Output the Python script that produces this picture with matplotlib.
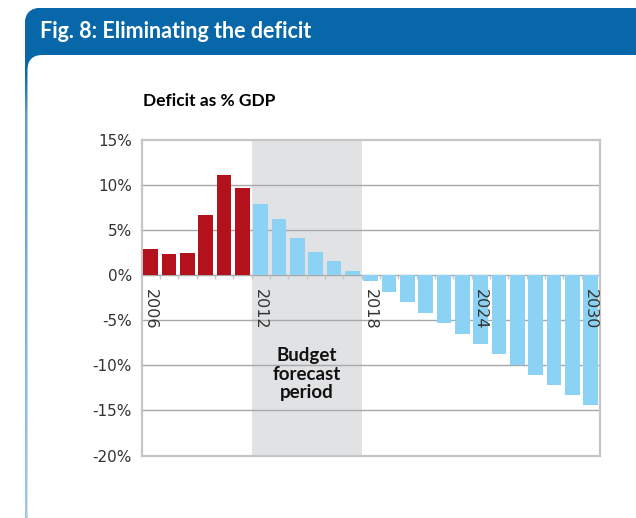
import numpy as np
import matplotlib
matplotlib.use("Agg")
import matplotlib.pyplot as plt
from matplotlib.patches import FancyBboxPatch
from matplotlib.colors import LinearSegmentedColormap

plt.rcParams["axes.unicode_minus"] = False

# Deficit as % of GDP, 2006-2030
years = list(range(2006, 2031))
deficit = [2.9, 2.3, 2.4, 6.6, 11.1, 9.6,            # outturn
           7.9, 6.2, 4.1, 2.5, 1.5, 0.4,              # budget forecast
           -0.7, -1.9, -3.0, -4.2, -5.3, -6.5, -7.7,
           -8.8, -10.0, -11.1, -12.2, -13.3, -14.4]    # projection
n_actual = 6
labelled_years = [2006, 2012, 2018, 2024, 2030]
forecast_span = (2012, 2017)
y_ticks = [15, 10, 5, 0, -5, -10, -15, -20]

title = "Fig. 8: Eliminating the deficit"
subtitle = "Deficit as % GDP"
band_label = "Budget\nforecast\nperiod"

RED = "#b3121c"
LIGHT_BLUE = "#8cd2f4"
HEADER_BLUE = "#0867a8"
SHADE = "#e1e2e4"
GRID = "#a8a8a8"
FRAME = "#c6c6c6"
TXT = "#333333"

W, H = 636, 518
fig = plt.figure(figsize=(W / 100, H / 100), dpi=100)
fig.patch.set_facecolor("white")

# ---- panel frame with header band (pixel coordinates) ----
bg = fig.add_axes([0, 0, 1, 1], zorder=-5)
bg.set_xlim(0, W)
bg.set_ylim(H, 0)
bg.axis("off")

outer = FancyBboxPatch((25, 8), 700, 530, boxstyle="round,pad=0,rounding_size=16",
                       facecolor="none", edgecolor="none")
bg.add_patch(outer)
grad_cmap = LinearSegmentedColormap.from_list(
    "edge", [(0.0, HEADER_BLUE), (0.12, HEADER_BLUE), (0.2, "#5b9cd3"), (1.0, "#a3cbea")])
grad = np.linspace(0, 1, 256).reshape(-1, 1)
im = bg.imshow(grad, cmap=grad_cmap, extent=(20, 730, 540, 8), origin="upper",
               aspect="auto", zorder=1)
im.set_clip_path(outer)
bg.set_xlim(0, W)
bg.set_ylim(H, 0)

header = FancyBboxPatch((25, 8), 700, 70, boxstyle="round,pad=0,rounding_size=16",
                        facecolor=HEADER_BLUE, edgecolor="none", zorder=2)
bg.add_patch(header)
panel = FancyBboxPatch((27.5, 55), 700, 475, boxstyle="round,pad=0,rounding_size=15",
                       facecolor="white", edgecolor="none", zorder=3)
bg.add_patch(panel)

bg.text(40, 32, title, color="white", fontsize=15.5, fontweight="bold",
        family="Lato", va="center", ha="left", zorder=4)
bg.text(143, 101, subtitle, color="black", fontsize=12.5, fontweight="bold",
        family="Lato", va="center", ha="left", zorder=4)

# ---- chart ----
left, right, top, bottom = 141.5, 600.0, 139.5, 455.5
ax = fig.add_axes([left / W, (H - bottom) / H, (right - left) / W, (bottom - top) / H])
ax.set_facecolor("none")

x = np.arange(len(years))
colors = [RED if i < n_actual else LIGHT_BLUE for i in range(len(years))]
ax.bar(x, deficit, width=0.8, color=colors, zorder=3)

i0 = years.index(forecast_span[0])
i1 = years.index(forecast_span[1])
ax.axvspan(i0 - 0.5, i1 + 0.5, color=SHADE, zorder=0, lw=0)
ax.text((i0 + i1) / 2, -11.0, band_label, ha="center", va="center",
        fontsize=13.5, fontweight="bold", family="Lato", color="#111111",
        linespacing=1.1, zorder=4)

ax.set_xlim(-0.5, len(years) - 0.5)
ax.set_ylim(y_ticks[-1], y_ticks[0])
ax.set_yticks(y_ticks)
ax.set_yticklabels([f"{v}%" for v in y_ticks])
ax.tick_params(axis="y", length=0, pad=7, labelsize=11, labelcolor=TXT)
ax.set_xticks([])

for v in y_ticks[1:-1]:
    ax.axhline(v, color=GRID, lw=1.0, zorder=1)

# small ticks on the zero line between categories
ax.vlines(x[:-1] + 0.5, -0.45, 0, color=FRAME, lw=1.0, zorder=2)

for yr in labelled_years:
    ax.text(years.index(yr), -1.55, str(yr), rotation=270, ha="center", va="top",
            fontsize=11.5, color=TXT, zorder=4)

for s in ax.spines.values():
    s.set_color(FRAME)
    s.set_linewidth(1.6)

fig.savefig("out.png", dpi=100)
